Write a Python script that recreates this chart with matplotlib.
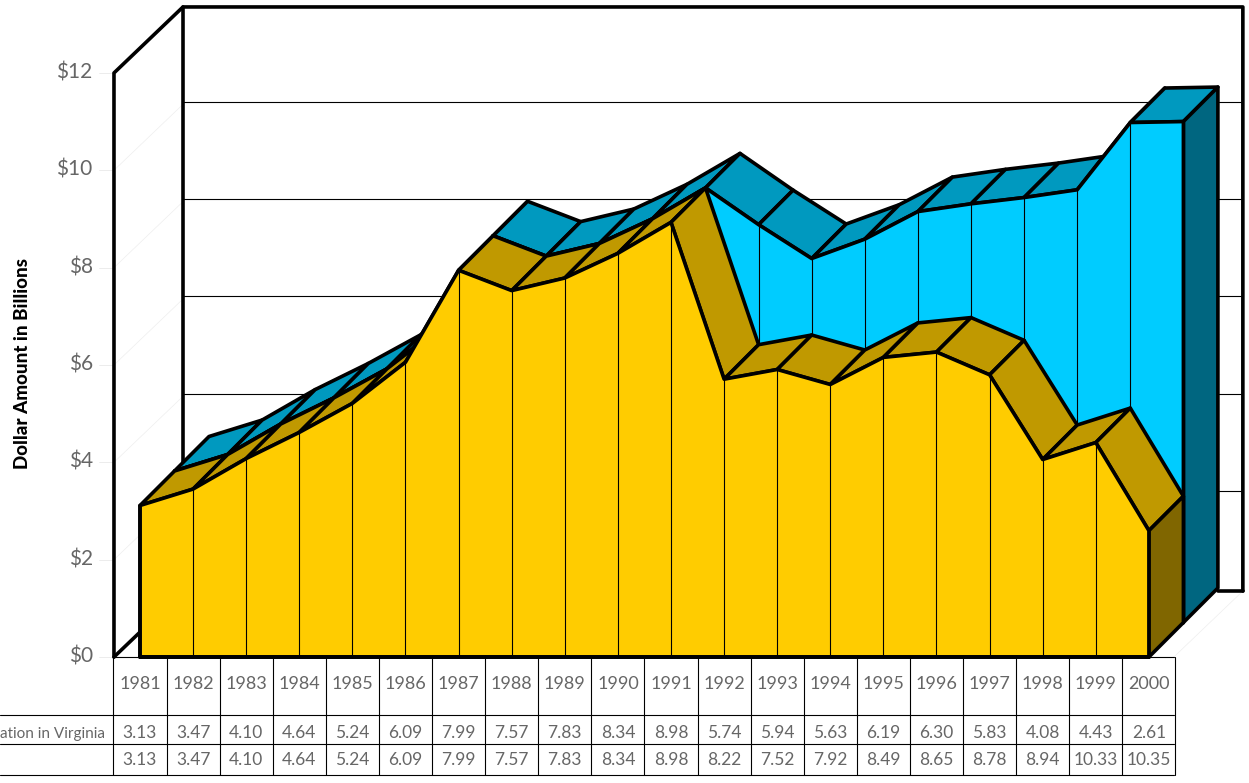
"""Oblique 3D area chart with a data table underneath, drawn on one flat axes."""
import matplotlib

matplotlib.use("Agg")
import matplotlib.pyplot as plt
from matplotlib.patches import Polygon

years = list(range(1981, 2001))
front_values = [3.13, 3.47, 4.10, 4.64, 5.24, 6.09, 7.99, 7.57, 7.83, 8.34,
                8.98, 5.74, 5.94, 5.63, 6.19, 6.30, 5.83, 4.08, 4.43, 2.61]
back_values = [3.13, 3.47, 4.10, 4.64, 5.24, 6.09, 7.99, 7.57, 7.83, 8.34,
               8.98, 8.22, 7.52, 7.92, 8.49, 8.65, 8.78, 8.94, 10.33, 10.35]
y_ticks = [0, 2, 4, 6, 8, 10, 12]
row_label = "ation in Virginia"
y_label = "Dollar Amount in Billions"

WIDTH, HEIGHT = 1249, 783
X_UNIT = 53.1   # pixels per year
Y_UNIT = 48.4   # pixels per dollar
X0_PX, Y0_PX = 140, 657

# depth of one ribbon and of the whole box, in data units
DX, DY = 34.5 / X_UNIT, 34.5 / Y_UNIT
BOX_DX, BOX_DY = 69 / X_UNIT, 66 / Y_UNIT
GRID_DY = 68.5 / Y_UNIT
AXIS_SCALE = 48.67 / Y_UNIT   # the printed axis runs a touch taller than the areas
WALL_L, WALL_R = years[0] - 0.49, years[-1] + 0.47
TOP = 12 * AXIS_SCALE

YELLOW, YELLOW_TOP, YELLOW_SIDE = "#FFCC00", "#C09900", "#806600"
BLUE, BLUE_TOP, BLUE_SIDE = "#00CCFF", "#0099BF", "#006680"
TEXT = "#666666"
THICK, THIN = 2.6, 0.8

plt.rcParams["font.family"] = ["Lato", "DejaVu Sans"]

fig = plt.figure(figsize=(WIDTH / 100, HEIGHT / 100), dpi=100)
ax = fig.add_axes([0, 0, 1, 1])
ax.set_xlim(years[0] - X0_PX / X_UNIT, years[0] + (WIDTH - X0_PX) / X_UNIT)
ax.set_ylim(-(HEIGHT - Y0_PX) / Y_UNIT, Y0_PX / Y_UNIT)
ax.set_axis_off()


def line(xs, ys, lw=THICK, color="black", z=1):
    ax.plot(xs, ys, color=color, lw=lw, zorder=z, solid_capstyle="round",
            solid_joinstyle="round", clip_on=False)


def ribbon(values, depth, face, top, side, z):
    """One area layer: top facets left to right, then the end cap and front face."""
    ox, oy = DX * depth, DY * depth
    xs = [y + ox for y in years]
    ys = [v + oy for v in values]
    for i in range(len(xs) - 1):
        facet = [(xs[i], ys[i]), (xs[i + 1], ys[i + 1]),
                 (xs[i + 1] + DX, ys[i + 1] + DY), (xs[i] + DX, ys[i] + DY)]
        ax.add_patch(Polygon(facet, facecolor=top, edgecolor="black", lw=THICK,
                             joinstyle="round", zorder=z))
    cap = [(xs[-1], oy), (xs[-1] + DX, oy + DY), (xs[-1] + DX, ys[-1] + DY), (xs[-1], ys[-1])]
    ax.add_patch(Polygon(cap, facecolor=side, edgecolor="black", lw=THICK,
                         joinstyle="round", zorder=z))
    outline = [(xs[0], oy)] + list(zip(xs, ys)) + [(xs[-1], oy)]
    ax.add_patch(Polygon(outline, facecolor=face, edgecolor="black", lw=THICK,
                         joinstyle="round", zorder=z + 0.1))
    for x, y in zip(xs[1:-1], ys[1:-1]):
        line([x, x], [oy, y], lw=THIN, z=z + 0.2)
    line([xs[0], xs[-1]], [oy, oy], z=z + 0.3)


# box: back wall, left wall, gridlines
for v in y_ticks[1:-1]:
    gy = v * AXIS_SCALE + GRID_DY
    line([WALL_L + BOX_DX, WALL_R + BOX_DX], [gy, gy], lw=THIN, z=0.5)
for v in y_ticks:
    tick_y = v * AXIS_SCALE
    line([WALL_L, WALL_L + BOX_DX], [tick_y, tick_y + BOX_DY], lw=0.5, color="#eeeeee", z=0.2)
    line([WALL_L - 0.28, WALL_L], [tick_y, tick_y], lw=0.5, color="#e4e4e4", z=0.2)
    ax.text(WALL_L - 0.4, tick_y + 0.01, f"${v}", ha="right", va="center", color=TEXT,
            fontsize=15)
line([WALL_R, WALL_R + BOX_DX], [0, BOX_DY], lw=0.5, color="#eeeeee", z=0.2)
line([WALL_L, WALL_L, WALL_L + BOX_DX, WALL_R + BOX_DX, WALL_R + BOX_DX],
     [0, TOP, TOP + BOX_DY, TOP + BOX_DY, BOX_DY], z=0.6)
line([WALL_L + BOX_DX, WALL_L + BOX_DX], [BOX_DY, TOP + BOX_DY], z=0.6)
line([WALL_L, WALL_L + BOX_DX], [0, BOX_DY], z=0.6)
line([years[-1] + 2 * DX, WALL_R + BOX_DX], [BOX_DY, BOX_DY], z=0.6)

ribbon(back_values, 1, BLUE, BLUE_TOP, BLUE_SIDE, 2)
ribbon(front_values, 0, YELLOW, YELLOW_TOP, YELLOW_SIDE, 3)
line([years[0], years[-1] + 0.0], [0, 0], z=4)
line([years[0], years[0]], [0, front_values[0]], z=4)

# data table below the floor
ROW_YEAR, ROW_A, ROW_B = -27 / Y_UNIT, -76 / Y_UNIT, -103 / Y_UNIT
RULES = [-58 / Y_UNIT, -87 / Y_UNIT, -118 / Y_UNIT]
LEFT_EDGE = ax.get_xlim()[0]
line([WALL_L, WALL_R], [0, 0], lw=THIN, z=1)
for r in RULES:
    line([LEFT_EDGE, WALL_R], [r, r], lw=THIN, z=1)
for i in range(len(years) + 1):
    x = years[0] - 0.5 + i
    line([x, x], [0, RULES[-1]], lw=THIN, z=1)
for year, a, b in zip(years, front_values, back_values):
    ax.text(year, ROW_YEAR, str(year), ha="center", va="center", color=TEXT, fontsize=13)
    ax.text(year, ROW_A, f"{a:.2f}", ha="center", va="center", color=TEXT, fontsize=12.5)
    ax.text(year, ROW_B, f"{b:.2f}", ha="center", va="center", color=TEXT, fontsize=12.5)
ax.text(WALL_L - 0.16, ROW_A - 0.02, row_label, ha="right", va="center", color=TEXT,
        fontsize=11)

ax.text(years[0] - 117 / X_UNIT, 6.07, y_label, rotation=90, ha="center", va="center",
        color="black", fontsize=13.5, fontweight="black")

fig.savefig("out.png", dpi=100, facecolor="white")
